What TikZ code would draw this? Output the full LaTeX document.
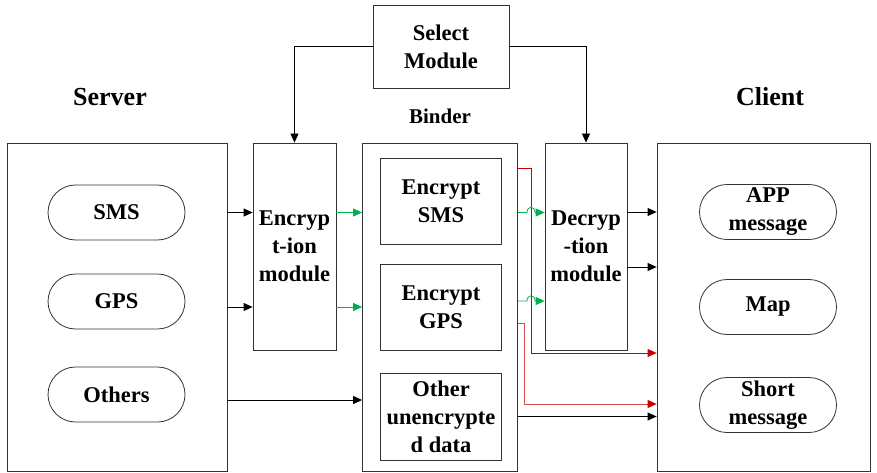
\documentclass[tikz,border=0pt]{standalone}
\usepackage{fontspec}
\setmainfont{Liberation Serif}
\usetikzlibrary{arrows.meta}
\definecolor{grn}{RGB}{0,176,80}
\definecolor{rd}{RGB}{200,0,0}
\definecolor{rdl}{RGB}{215,80,80}
\begin{document}
\begin{tikzpicture}[x=1pt,y=-1pt,
  every node/.style={font=\fontsize{22.5}{28}\selectfont\bfseries, align=center, inner sep=0pt},
  bigbox/.style={draw=black!80, line width=0.8pt, rectangle},
  pill/.style={draw=black!80, line width=0.8pt, rectangle, rounded corners=27.5pt, minimum width=137pt, minimum height=55pt},
  conn/.style={line width=0.8pt, -{Triangle[length=9pt,width=8pt]}}]
\useasboundingbox (0,0) rectangle (877,473);
% big boxes
\node[bigbox, minimum width=220pt, minimum height=328pt] (server) at (117,307) {};
\node[bigbox, minimum width=155pt, minimum height=328pt] (binder) at (440,307) {};
\node[bigbox, minimum width=213pt, minimum height=328pt] (client) at (763.5,307) {};
\node[bigbox, minimum width=83pt, minimum height=207pt] (enc) at (294.5,246.5) {Encryp\\t-ion\\module};
\node[bigbox, minimum width=82pt, minimum height=207pt] (dec) at (586,246.5) {Decryp\\-tion\\module};
\node[bigbox, minimum width=136pt, minimum height=83pt] (sel) at (441,46.5) {Select\\Module};
% labels
\node[font=\fontsize{26}{30}\selectfont\bfseries] (lserver) at (110,97) {Server};
\node[font=\fontsize{26}{30}\selectfont\bfseries] (lclient) at (770,97) {Client};
\node[font=\fontsize{21}{25}\selectfont\bfseries] (lbinder) at (440,116) {Binder};
% server pills
\node[pill] (sms) at (116.5,212.5) {SMS};
\node[pill] (gps) at (116.5,301.5) {GPS};
\node[pill] (others) at (116.5,394.5) {Others};
% binder inner boxes
\node[bigbox, minimum width=121pt, minimum height=86pt] (esms) at (441,201) {Encrypt\\SMS};
\node[bigbox, minimum width=121pt, minimum height=86pt] (egps) at (441,307) {Encrypt\\GPS};
\node[bigbox, minimum width=121pt, minimum height=87pt] (eoth) at (441,416.5) {Other\\unencrypte\\d data};
% client pills
\node[pill] (app) at (768,212) {APP\\message};
\node[pill] (map) at (768,307) {Map};
\node[pill] (short) at (768,405) {Short\\message};
% select module connectors
\draw[conn] (sel.west) -| (enc.north);
\draw[conn] (sel.east) -| (dec.north);
% server -> encryption
\draw[conn] (server.east |- sms) -- (enc.west |- sms);
\draw[conn] (server.east |- 0,307) -- (enc.west |- 0,307);
\draw[conn] (server.east |- 0,400) -- (binder.west |- 0,400);
% encryption -> binder (green)
\draw[conn, draw=grn] (enc.east |- sms) -- (binder.west |- sms);
\draw[conn, draw=grn] (enc.east |- 0,307) -- (binder.west |- 0,307);
% red connectors
\coordinate (r1a) at (binder.east |- 0,168);
\coordinate (r1b) at (531,168);
\coordinate (r1c) at (531,353);
\draw[conn, draw=rd] (r1a) -- (r1b) -- (r1c) -- (client.west |- r1c);
\coordinate (r2a) at (binder.east |- 0,323);
\coordinate (r2b) at (524,323);
\coordinate (r2c) at (524,404);
\draw[line width=0.8pt, draw=rdl, -{Triangle[length=9pt,width=8pt,color=rd]}] (r2a) -- (r2b) -- (r2c) -- (client.west |- r2c);
% binder -> decryption (green, hopping over red line)
\coordinate (g1) at (binder.east |- sms);
\coordinate (g2) at (binder.east |- 0,301);
\draw[conn, draw=grn] (g1) -- (527,212.5) .. controls (527,205.5) and (535,205.5) .. (535,212.5) -- (dec.west |- g1);
\draw[conn, draw=grn] (g2) -- (527,301) .. controls (527,294) and (535,294) .. (535,301) -- (dec.west |- g2);
% decryption -> client
\draw[conn] (dec.east |- app) -- (client.west |- app);
\draw[conn] (dec.east |- 0,267) -- (client.west |- 0,267);
% other -> client
\draw[conn] (binder.east |- eoth) -- (client.west |- eoth);
\end{tikzpicture}
\end{document}
